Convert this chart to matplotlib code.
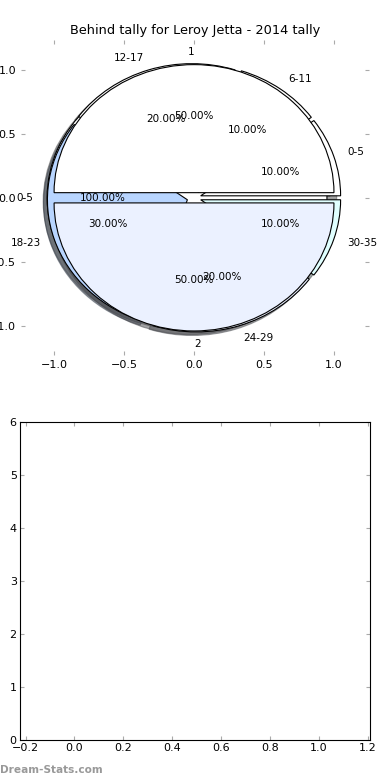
import matplotlib
matplotlib.use("Agg")
import matplotlib.pyplot as plt

# Chart data
TITLE = "Behind tally for Leroy Jetta - 2014 tally"
ALL_LABELS = ["0-5"]
ALL_VALUES = [1]
AGE_LABELS = ["0-5", "6-11", "12-17", "18-23", "24-29", "30-35"]
AGE_VALUES = [10, 10, 20, 30, 20, 10]
HALF_LABELS = ["1", "2"]
HALF_VALUES = [50, 50]
PIE_TICKS = [-1.0, -0.5, 0.0, 0.5, 1.0]
EMPTY_XTICKS = [-0.2, 0.0, 0.2, 0.4, 0.6, 0.8, 1.0, 1.2]
EMPTY_YTICKS = [0, 1, 2, 3, 4, 5, 6]

FS = 7.5
TICK_FS = 8
TICK_COLOR = "#aaaaaa"

fig = plt.figure(figsize=(3.9, 7.8), dpi=100)

# Top: layered pies
ax = fig.add_axes([0.054, 0.545, 0.892, 0.404])
ax.pie(ALL_VALUES, labels=ALL_LABELS, autopct="%1.2f%%", explode=[0.05],
       colors=["white"], shadow=True, frame=True,
       wedgeprops={"edgecolor": "black", "linewidth": 0.8},
       textprops={"fontsize": FS})
ax.pie(AGE_VALUES, labels=AGE_LABELS, autopct="%1.2f%%", explode=[0.05] * 6,
       colors=["white", "white", "white", "#b8d5ff", "#eaf0ff", "#e0ffff"],
       shadow=True, frame=True,
       wedgeprops={"edgecolor": "black", "linewidth": 0.8},
       textprops={"fontsize": FS})
ax.pie(HALF_VALUES, labels=HALF_LABELS, autopct="%1.2f%%", explode=[0.04, 0.04],
       colors=["white", "#ebf1ff"], shadow=True, frame=True,
       wedgeprops={"edgecolor": "black", "linewidth": 0.8},
       textprops={"fontsize": FS})
ax.set_aspect("auto")
ax.set_xlim(-1.236, 1.25)
ax.set_ylim(-1.227, 1.234)
ax.set_frame_on(False)
ax.set_xticks(PIE_TICKS)
ax.set_yticks(PIE_TICKS)
ax.tick_params(direction="in", length=3, color=TICK_COLOR, labelsize=TICK_FS,
               top=True, right=True)
ax.set_title(TITLE, fontsize=9.3, pad=4)

# Bottom: empty axes
ax2 = fig.add_axes([0.05, 0.051, 0.899, 0.408])
ax2.set_xlim(-0.225, 1.21)
ax2.set_ylim(0, 6)
ax2.set_xticks(EMPTY_XTICKS)
ax2.set_yticks(EMPTY_YTICKS)
ax2.tick_params(direction="in", length=3, color=TICK_COLOR, labelsize=TICK_FS,
                top=True, right=True, pad=2)
for s in ax2.spines.values():
    s.set_linewidth(0.8)

fig.text(0.0, 0.013, "Dream-Stats.com", fontsize=7.6, color="#999999",
         fontweight="bold", ha="left", va="center")

fig.savefig("out.png", dpi=100)
